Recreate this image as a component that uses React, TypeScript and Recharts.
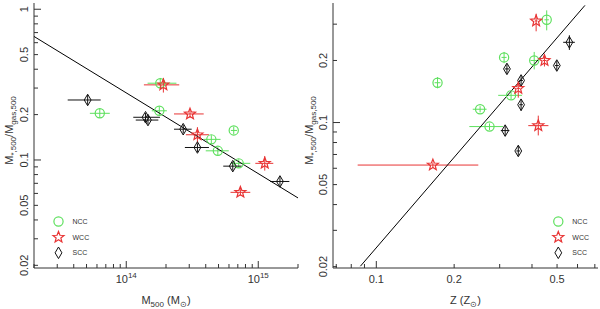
import { ScatterChart, Scatter, XAxis, YAxis, ErrorBar, Label } from "recharts";

// [x, y, xLow, xHigh, yLow, yHigh]
type Pt = [number, number, number, number, number, number];

const massNCC: Pt[] = [
  [6.3e13, 0.204, 5.3e13, 7.5e13, 0.19, 0.22],
  [1.81e14, 0.323, 1.45e14, 2.4e14, 0.3, 0.35],
  [1.78e14, 0.212, 1.56e14, 2.03e14, 0.198, 0.226],
  [6.52e14, 0.157, 6.2e14, 6.9e14, 0.148, 0.166],
  [4.41e14, 0.137, 3.86e14, 5.18e14, 0.128, 0.146],
  [4.94e14, 0.115, 4.0e14, 5.98e14, 0.108, 0.122],
  [7.11e14, 0.095, 6.16e14, 8.7e14, 0.089, 0.101],
];
const massWCC: Pt[] = [
  [1.91e14, 0.315, 1.36e14, 2.52e14, 0.28, 0.35],
  [3.04e14, 0.202, 2.3e14, 3.86e14, 0.19, 0.215],
  [3.46e14, 0.147, 2.83e14, 4.23e14, 0.13, 0.165],
  [1.12e15, 0.095, 9.5e14, 1.3e15, 0.085, 0.106],
  [7.32e14, 0.061, 6.16e14, 8.7e14, 0.058, 0.064],
];
const massSCC: Pt[] = [
  [5.1e13, 0.25, 3.6e13, 6.4e13, 0.232, 0.27],
  [1.4e14, 0.192, 1.13e14, 1.8e14, 0.18, 0.205],
  [1.46e14, 0.184, 1.18e14, 1.75e14, 0.172, 0.197],
  [2.7e14, 0.16, 2.3e14, 3.13e14, 0.15, 0.171],
  [3.46e14, 0.121, 2.78e14, 4.23e14, 0.113, 0.129],
  [6.41e14, 0.091, 5.43e14, 7.5e14, 0.085, 0.097],
  [1.46e15, 0.072, 1.23e15, 1.72e15, 0.067, 0.077],
];
const massFit = [
  { x: 2e13, y: 0.66 },
  { x: 2e15, y: 0.056 },
];

const metalNCC: Pt[] = [
  [0.1725, 0.156, 0.168, 0.177, 0.1465, 0.166],
  [0.312, 0.207, 0.305, 0.319, 0.194, 0.22],
  [0.456, 0.315, 0.447, 0.465, 0.28, 0.35],
  [0.408, 0.2, 0.395, 0.42, 0.181, 0.22],
  [0.252, 0.116, 0.236, 0.267, 0.112, 0.12],
  [0.332, 0.1355, 0.296, 0.366, 0.13, 0.141],
  [0.274, 0.0956, 0.229, 0.309, 0.092, 0.099],
];
const metalWCC: Pt[] = [
  [0.415, 0.311, 0.41, 0.42, 0.277, 0.337],
  [0.447, 0.2, 0.44, 0.455, 0.187, 0.213],
  [0.354, 0.1465, 0.348, 0.36, 0.132, 0.159],
  [0.423, 0.0966, 0.387, 0.463, 0.0866, 0.108],
  [0.1655, 0.0622, 0.0847, 0.248, 0.0605, 0.064],
];
const metalSCC: Pt[] = [
  [0.558, 0.245, 0.528, 0.586, 0.225, 0.265],
  [0.499, 0.189, 0.49, 0.508, 0.179, 0.199],
  [0.32, 0.182, 0.314, 0.326, 0.172, 0.192],
  [0.363, 0.16, 0.357, 0.369, 0.152, 0.168],
  [0.363, 0.122, 0.357, 0.369, 0.114, 0.13],
  [0.315, 0.0914, 0.303, 0.327, 0.086, 0.097],
  [0.354, 0.0728, 0.348, 0.36, 0.069, 0.077],
];
const metalFit = [
  { x: 0.0868, y: 0.0201 },
  { x: 0.641, y: 0.37 },
];

const massTicks = [2e13, 3e13, 4e13, 5e13, 6e13, 7e13, 8e13, 9e13, 1e14, 2e14, 3e14, 4e14, 5e14, 6e14, 7e14, 8e14, 9e14, 1e15, 2e15];
const massLabels = [1e14, 1e15];
const ratioTicksL = [0.02, 0.03, 0.04, 0.05, 0.06, 0.07, 0.08, 0.09, 0.1, 0.2, 0.3, 0.4, 0.5, 0.6, 0.7, 0.8, 0.9, 1];
const ratioLabelsL = [0.02, 0.05, 0.1, 0.2, 0.5, 1];
const metalTicks = [0.07, 0.08, 0.09, 0.1, 0.2, 0.3, 0.4, 0.5, 0.6, 0.7];
const metalLabels = [0.1, 0.2, 0.5];
const ratioTicksR = [0.02, 0.03, 0.04, 0.05, 0.06, 0.07, 0.08, 0.09, 0.1, 0.2, 0.3];
const ratioLabelsR = [0.02, 0.05, 0.1, 0.2];

const GREEN = "#5ee05e";
const RED = "#e83434";
const BLACK = "#111";
const INK = "#333";
const FONT = "'Liberation Sans', Arial, sans-serif";

const rows = (pts: Pt[]) =>
  pts.map(([x, y, xl, xh, yl, yh]) => ({ x, y, ex: [x - xl, xh - x], ey: [y - yl, yh - y] }));

const isDecade = (v: number) => Math.abs(Math.log10(v) - Math.round(Math.log10(v))) < 1e-6;
const hasLabel = (v: number, labels: number[]) => labels.some((l) => Math.abs(l / v - 1) < 1e-6);

const powLabel = (v: number) => (
  <>
    10<tspan dy={-5} fontSize={8}>{Math.round(Math.log10(v))}</tspan>
  </>
);
const plainLabel = (v: number) => String(v);

type Side = "bottom" | "top" | "left" | "right";

function tickFor(side: Side, labels: number[] = [], fmt = plainLabel) {
  return (p: any) => {
    const v = p.payload.value;
    const { x, y } = p;
    const len = isDecade(v) ? 7 : 4;
    let line;
    if (side === "bottom") line = <line x1={x} y1={y} x2={x} y2={y - len} />;
    else if (side === "top") line = <line x1={x} y1={y} x2={x} y2={y + len} />;
    else if (side === "left") line = <line x1={x} y1={y} x2={x + len} y2={y} />;
    else line = <line x1={x} y1={y} x2={x - len} y2={y} />;
    let text = null;
    if (hasLabel(v, labels)) {
      if (side === "bottom")
        text = (
          <text x={x} y={y + 14.5} textAnchor="middle" fill={INK} stroke="none" fontSize={11} fontFamily={FONT}>
            {fmt(v)}
          </text>
        );
      else if (side === "left")
        text = (
          <text transform={`translate(${x - 6.5},${y}) rotate(-90)`} textAnchor="middle" fill={INK} stroke="none" fontSize={11} fontFamily={FONT}>
            {fmt(v)}
          </text>
        );
    }
    return (
      <g stroke={INK} strokeWidth={1}>
        {line}
        {text}
      </g>
    );
  };
}

const Circle = (p: any) => <circle cx={p.cx} cy={p.cy} r={4.6} fill="none" stroke={GREEN} strokeWidth={1.2} />;

const Star = (p: any) => {
  const pts: string[] = [];
  for (let i = 0; i < 10; i++) {
    const r = i % 2 === 0 ? 5.8 : 2.5;
    const a = -Math.PI / 2 + (i * Math.PI) / 5;
    pts.push(`${p.cx + r * Math.cos(a)},${p.cy + r * Math.sin(a)}`);
  }
  return <polygon points={pts.join(" ")} fill="none" stroke={RED} strokeWidth={1.2} />;
};

const Diamond = (p: any) => (
  <polygon
    points={`${p.cx},${p.cy - 5.8} ${p.cx + 3.4},${p.cy} ${p.cx},${p.cy + 5.8} ${p.cx - 3.4},${p.cy}`}
    fill="none"
    stroke={BLACK}
    strokeWidth={1}
  />
);

const Nothing = () => <g />;

const yTitle = (props: any) => {
  const vb = props.viewBox;
  return (
    <text transform={`translate(13,${vb.y + vb.height / 2 - 5}) rotate(-90)`} textAnchor="middle" fill={INK} fontSize={11} fontFamily={FONT}>
      M<tspan dy={3} fontSize={8}>*,500</tspan>
      <tspan dy={-3}>/M</tspan>
      <tspan dy={3} fontSize={8}>gas,500</tspan>
    </text>
  );
};

const xTitle = (main: string, sub: string | null, rest: string) => (props: any) => {
  const vb = props.viewBox;
  return (
    <text x={vb.x + vb.width / 2} y={303.5} textAnchor="middle" fill={INK} fontSize={11} fontFamily={FONT}>
      {main}
      {sub ? <tspan dy={3} fontSize={8}>{sub}</tspan> : null}
      <tspan dy={sub ? -3 : 0}> ({rest}</tspan>
      <tspan dy={3} fontSize={8}>⊙</tspan>
      <tspan dy={-3}>)</tspan>
    </text>
  );
};

function Panel(props: {
  ncc: Pt[];
  wcc: Pt[];
  scc: Pt[];
  fit: { x: number; y: number }[];
  xDomain: [number, number];
  yDomain: [number, number];
  xTicks: number[];
  xLabels: number[];
  xFmt: (v: number) => any;
  yTicks: number[];
  yLabels: number[];
  yAxisWidth: number;
  title: (p: any) => any;
}) {
  const { ncc, wcc, scc, fit } = props;
  return (
    <ScatterChart width={300} height={309} margin={{ top: 3, right: 2, bottom: 0, left: 0 }}>
      <XAxis
        dataKey="x"
        type="number"
        scale="log"
        domain={props.xDomain}
        allowDataOverflow
        ticks={props.xTicks}
        interval={0}
        height={41}
        tickSize={0}
        tickMargin={0}
        tickLine={false}
        axisLine={{ stroke: INK }}
        tick={tickFor("bottom", props.xLabels, props.xFmt)}
      >
        <Label content={props.title} />
      </XAxis>
      <XAxis
        xAxisId="top"
        orientation="top"
        dataKey="x"
        type="number"
        scale="log"
        domain={props.xDomain}
        allowDataOverflow
        ticks={props.xTicks}
        interval={0}
        height={0}
        tickSize={0}
        tickMargin={0}
        tickLine={false}
        axisLine={{ stroke: INK }}
        tick={tickFor("top")}
      />
      <YAxis
        dataKey="y"
        type="number"
        scale="log"
        domain={props.yDomain}
        allowDataOverflow
        ticks={props.yTicks}
        interval={0}
        width={props.yAxisWidth}
        tickSize={0}
        tickMargin={0}
        tickLine={false}
        axisLine={{ stroke: INK }}
        tick={tickFor("left", props.yLabels)}
      >
        <Label content={yTitle} />
      </YAxis>
      <YAxis
        yAxisId="right"
        orientation="right"
        dataKey="y"
        type="number"
        scale="log"
        domain={props.yDomain}
        allowDataOverflow
        ticks={props.yTicks}
        interval={0}
        width={0}
        tickSize={0}
        tickMargin={0}
        tickLine={false}
        axisLine={{ stroke: INK }}
        tick={tickFor("right")}
      />
      <Scatter xAxisId="top" yAxisId="right" data={fit} shape={Nothing} isAnimationActive={false} />
      <Scatter data={fit} line={{ stroke: "#000", strokeWidth: 1 }} shape={Nothing} isAnimationActive={false} />
      <Scatter data={rows(ncc)} shape={Circle} isAnimationActive={false}>
        <ErrorBar dataKey="ex" direction="x" width={0} stroke={GREEN} strokeWidth={1} />
        <ErrorBar dataKey="ey" direction="y" width={0} stroke={GREEN} strokeWidth={1} />
      </Scatter>
      <Scatter data={rows(scc)} shape={Diamond} isAnimationActive={false}>
        <ErrorBar dataKey="ex" direction="x" width={0} stroke={BLACK} strokeWidth={1} />
        <ErrorBar dataKey="ey" direction="y" width={0} stroke={BLACK} strokeWidth={1} />
      </Scatter>
      <Scatter data={rows(wcc)} shape={Star} isAnimationActive={false}>
        <ErrorBar dataKey="ex" direction="x" width={0} stroke={RED} strokeWidth={1} />
        <ErrorBar dataKey="ey" direction="y" width={0} stroke={RED} strokeWidth={1} />
      </Scatter>
    </ScatterChart>
  );
}

function LegendBox({ x }: { x: number }) {
  const items = [
    { name: "NCC", Shape: Circle, y: 221.5 },
    { name: "WCC", Shape: Star, y: 237.3 },
    { name: "SCC", Shape: Diamond, y: 252.8 },
  ];
  return (
    <g>
      {items.map(({ name, Shape, y }) => (
        <g key={name}>
          <Shape cx={x} cy={y} />
          <text x={x + 14} y={y + 2.5} fill={INK} fontSize={7} fontFamily={FONT}>
            {name}
          </text>
        </g>
      ))}
    </g>
  );
}

export default function App() {
  return (
    <div style={{ position: "absolute", left: 0, top: 0, width: 600, height: 309, background: "#fff" }}>
      <div style={{ position: "absolute", left: 0, top: 0 }}>
        <Panel
          ncc={massNCC}
          wcc={massWCC}
          scc={massSCC}
          fit={massFit}
          xDomain={[2e13, 2e15]}
          yDomain={[0.0192, 1.1]}
          xTicks={massTicks}
          xLabels={massLabels}
          xFmt={powLabel}
          yTicks={ratioTicksL}
          yLabels={ratioLabelsL}
          yAxisWidth={34}
          title={xTitle("M", "500", "M")}
        />
      </div>
      <div style={{ position: "absolute", left: 300, top: 0 }}>
        <Panel
          ncc={metalNCC}
          wcc={metalWCC}
          scc={metalSCC}
          fit={metalFit}
          xDomain={[0.068, 0.72]}
          yDomain={[0.0197, 0.38]}
          xTicks={metalTicks}
          xLabels={metalLabels}
          xFmt={plainLabel}
          yTicks={ratioTicksR}
          yLabels={ratioLabelsR}
          yAxisWidth={33}
          title={xTitle("Z", null, "Z")}
        />
      </div>
      <svg width={600} height={309} style={{ position: "absolute", left: 0, top: 0, pointerEvents: "none" }}>
        <LegendBox x={58.5} />
        <LegendBox x={558.3} />
      </svg>
    </div>
  );
}
